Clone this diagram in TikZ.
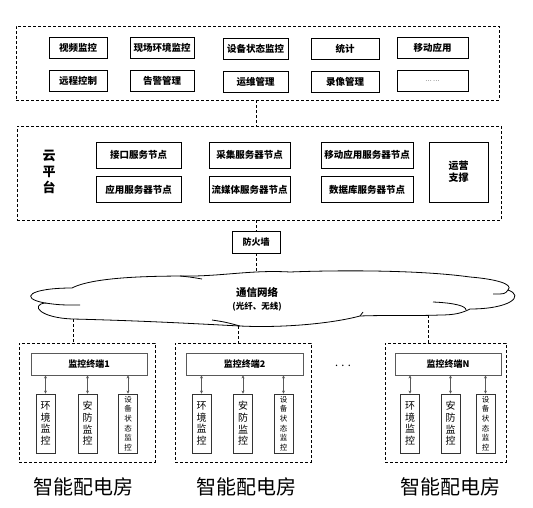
\documentclass[tikz,border=0pt]{standalone}
\usepackage{fontspec}
\setmainfont{Noto Sans CJK SC}
\usetikzlibrary{positioning,arrows.meta}

\begin{document}
\begin{tikzpicture}[x=1pt,y=-1pt,
  box/.style={draw,line width=0.8pt,minimum height=21pt,inner sep=1pt,font=\fontsize{9.5}{11}\selectfont\bfseries},
  grp/.style={draw,line width=0.9pt,dash pattern=on 3pt off 2pt},
  link/.style={line width=0.9pt,dash pattern=on 3pt off 2pt},
  term/.style={draw=black!65,line width=0.8pt,minimum height=22pt,font=\fontsize{9}{11}\selectfont\bfseries},
  sub/.style={draw=black!80,line width=0.8pt,minimum width=19pt,minimum height=59pt,inner sep=0pt,align=center,font=\fontsize{10}{11.7}\selectfont},
  subs/.style={sub,font=\fontsize{7.5}{9.6}\selectfont},
  io/.style={draw=black!65,line width=0.7pt,{Stealth[length=3pt,width=3pt]}-{Stealth[length=3pt,width=3pt]}},
  room/.style={font=\fontsize{20}{24}\selectfont}]
\useasboundingbox (0,0) rectangle (533,508);

\node[grp,minimum width=483pt,minimum height=74pt] (app) at (257.5,63) {};
\node[box,minimum width=58pt] (v1) at (78,48) {视频监控};
\node[box,minimum width=64pt] (v2) at (162,48) {现场环境监控};
\node[box,minimum width=65pt] (v3) at (255.5,49) {设备状态监控};
\node[box,minimum width=68pt] (v4) at (345,49) {统计};
\node[box,minimum width=71pt] (v5) at (432.5,48) {移动应用};
\node[box,minimum width=58pt,below=11pt of v1] (v6) {远程控制};
\node[box,minimum width=64pt,below=11pt of v2] (v7) {告警管理};
\node[box,minimum width=65pt,below=11pt of v3] (v8) {运维管理};
\node[box,minimum width=68pt,below=11pt of v4] (v9) {录像管理};
\node[box,minimum width=71pt,below=11pt of v5,font=\fontsize{6}{7}\selectfont] (v10) {… …};

\node[grp,minimum width=484pt,minimum height=94pt] (plat) at (259,173) {};
\node[font=\fontsize{13}{16}\selectfont\bfseries,align=center] (yun) at (49,172) {云\\平\\台};
\node[box,minimum width=85pt,minimum height=26pt] (p1) at (138.5,155) {接口服务节点};
\node[box,minimum width=85pt,minimum height=26pt,below=8pt of p1] (p2) {应用服务器节点};
\node[box,minimum width=81pt,minimum height=26pt] (p3) at (249.5,155) {采集服务器节点};
\node[box,minimum width=81pt,minimum height=26pt,below=8pt of p3] (p4) {流媒体服务器节点};
\node[box,minimum width=92pt,minimum height=26pt] (p5) at (367,155) {移动应用服务器节点};
\node[box,minimum width=92pt,minimum height=26pt,below=8pt of p5] (p6) {数据库服务器节点};
\node[box,minimum width=59pt,minimum height=60pt,align=center,font=\fontsize{10}{12}\selectfont\bfseries] (yw) at (458.5,172) {运营\\支撑};

\node[box,minimum width=48pt,minimum height=22pt,font=\fontsize{9}{11}\selectfont\bfseries] (fw) at (256,242) {防火墙};

\draw[line width=0.8pt,fill=white] (72,288) .. controls (95,276) and (160,276) .. (195,276)
  .. controls (230,275) and (255,270) .. (290,272)
  .. controls (340,270) and (420,270) .. (470,277)
  .. controls (495,279) and (514,284) .. (508,290)
  .. controls (525,296) and (510,309) .. (470,309)
  .. controls (462,313) and (455,315) .. (440,315)
  .. controls (420,316) and (385,315) .. (360,316)
  .. controls (330,324) and (280,328) .. (240,326)
  .. controls (200,324) and (150,321) .. (73,319)
  .. controls (40,318) and (30,305) .. (45,303)
  .. controls (18,298) and (30,288) .. (72,288) -- cycle;
\draw[line width=0.8pt] (180,276) .. controls (190,277) .. (202,279);
\draw[line width=0.8pt] (45,303) .. controls (60,305) .. (80,305);
\draw[line width=0.8pt] (212,320) .. controls (225,322) .. (240,326);
\draw[line width=0.8pt] (360,316) -- (363,312);
\draw[line width=0.8pt] (508,290) .. controls (505,294) .. (493,294);
\draw[line width=0.8pt] (433,302) .. controls (455,303) and (466,306) .. (466,310);
\node[align=center,font=\fontsize{10.5}{13}\selectfont\bfseries] (net) at (257,299) {通信网络\\{\fontsize{8.5}{10}\selectfont (光纤、无线)}};
\coordinate (ct) at (256,272);
\coordinate (c1) at (73,319);
\coordinate (c2) at (238,326);
\coordinate (c3) at (428,315);

\draw[link] (app.south -| fw) -- (plat.north -| fw);
\draw[link] (plat.south -| fw) -- (fw);
\draw[link] (fw) -- (ct);

\node[grp,minimum width=136pt,minimum height=119pt] (r1) at (87,402.5) {};
\node[term,minimum width=116pt] (t1) at (89,364) {监控终端1};
\node[sub] (e1) at (45.5,423.5) {环\\境\\监\\控};
\node[sub] (a1) at (87.5,423.5) {安\\防\\监\\控};
\node[subs] (s1) at (128,423.5) {设\\备\\状\\态\\监\\控};
\draw[io] (t1.south -| e1) -- (e1);
\draw[io] (t1.south -| a1) -- (a1);
\draw[io] (t1.south -| s1) -- (s1);
\draw[link] (c1) -- (c1 |- r1.north);
\node[room] (m1) at (83,487) {智能配电房};

\node[grp,minimum width=136pt,minimum height=119pt] (r2) at (243,402.5) {};
\node[term,minimum width=117pt] (t2) at (244.5,364) {监控终端2};
\node[sub] (e2) at (201.5,423.5) {环\\境\\监\\控};
\node[sub] (a2) at (243,423.5) {安\\防\\监\\控};
\node[subs] (s2) at (283.5,423.5) {设\\备\\状\\态\\监\\控};
\draw[io] (t2.south -| e2) -- (e2);
\draw[io] (t2.south -| a2) -- (a2);
\draw[io] (t2.south -| s2) -- (s2);
\draw[link] (c2) -- (c2 |- r2.north);
\node[room] (m2) at (246,487) {智能配电房};

\node[font=\fontsize{11}{13}\selectfont] (dots) at (343,366) {. . .};

\node[grp,minimum width=121pt,minimum height=119pt] (r3) at (445.5,402.5) {};
\node[term,minimum width=106pt] (t3) at (448,364) {监控终端N};
\node[sub] (e3) at (410,423.5) {环\\境\\监\\控};
\node[sub] (a3) at (450.5,423.5) {安\\防\\监\\控};
\node[subs] (s3) at (485.5,423.5) {设\\备\\状\\态\\监\\控};
\draw[io] (t3.south -| e3) -- (e3);
\draw[io] (t3.south -| a3) -- (a3);
\draw[io] (t3.south -| s3) -- (s3);
\draw[link] (c3) -- (c3 |- r3.north);
\node[room] (m3) at (450,487) {智能配电房};
\end{tikzpicture}
\end{document}
